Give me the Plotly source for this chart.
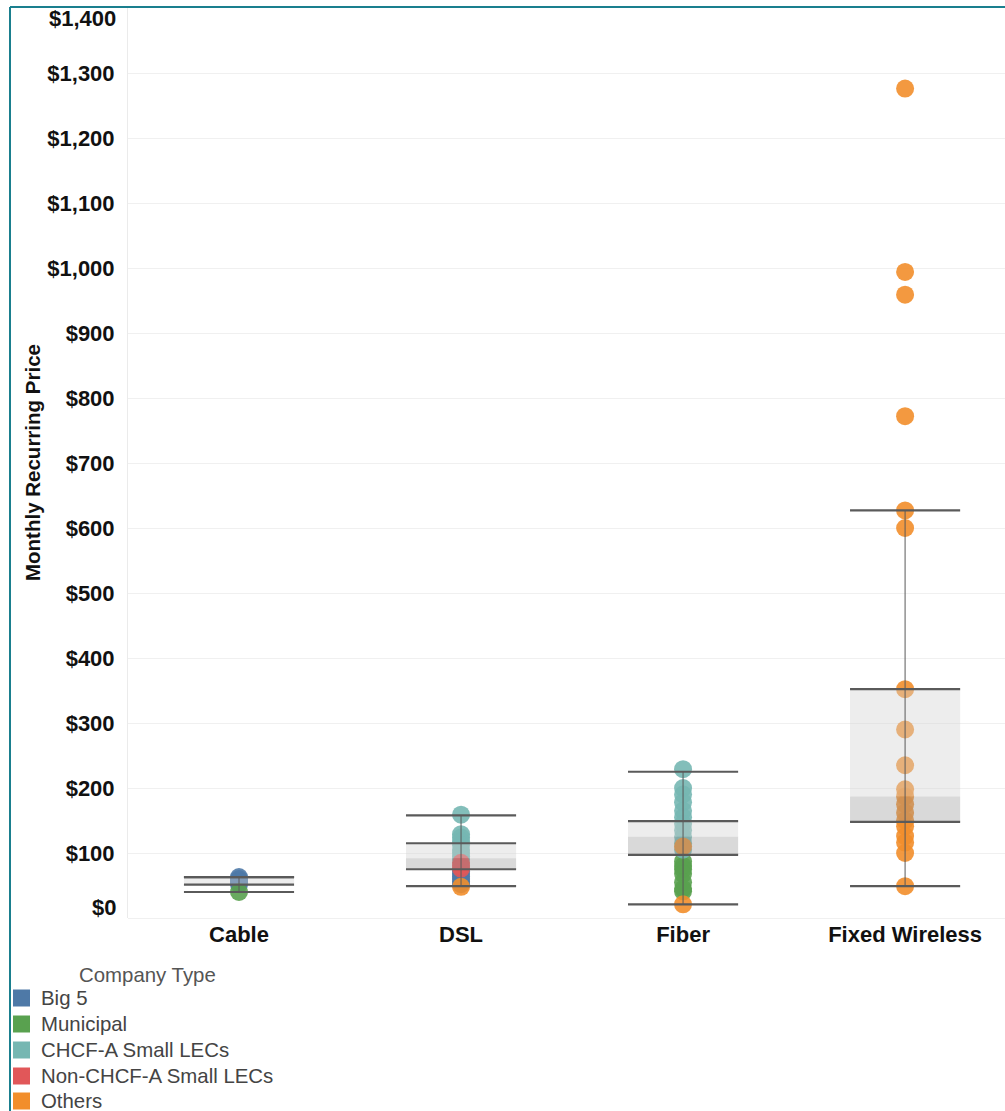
import plotly.graph_objects as go

# ---- data -------------------------------------------------------------
CATEGORIES = ["Cable", "DSL", "Fiber", "Fixed Wireless"]
COMPANY_TYPES = ["Big 5", "Municipal", "CHCF-A Small LECs", "Non-CHCF-A Small LECs", "Others"]
COLORS = ["#4E79A7", "#59A14F", "#76B7B2", "#E15759", "#F28E2B"]

# monthly recurring prices ($) by technology and company type
cable_big5 = [63, 60, 57, 55, 52]
cable_municipal = [40]

dsl_big5 = [72, 68, 64, 60, 56, 52]
dsl_chcf = [159, 129, 124, 118, 112, 105, 100, 95, 90]
dsl_non_chcf = [85, 80, 76]
dsl_others = [48]

fiber_municipal = [87, 80, 75, 68, 55, 45, 41]
fiber_chcf = [229, 200, 190, 178, 165, 155, 145, 135, 125, 115, 105]
fiber_others = [110, 21]

fixed_wireless_others = [1276, 994, 959, 772, 627, 600, 352, 290, 235, 198,
                         187, 175, 162, 150, 141, 126, 116, 100, 49]

# box-plot statistics per technology
whisker_low = [40, 49, 21, 49]
q1 = [51.5, 75, 97, 148]
median = [52, 92, 125, 187]
q3 = [63, 115, 149, 352]
whisker_high = [63, 158, 225, 627]

Y_TICKS = [100, 200, 300, 400, 500, 600, 700, 800, 900, 1000, 1100, 1200, 1300]

# ---- assemble series (category index, prices) per company type --------
series = {
    "Big 5": [(0, cable_big5), (1, dsl_big5)],
    "Municipal": [(0, cable_municipal), (2, fiber_municipal)],
    "CHCF-A Small LECs": [(1, dsl_chcf), (2, fiber_chcf)],
    "Non-CHCF-A Small LECs": [(1, dsl_non_chcf)],
    "Others": [(1, dsl_others), (2, fiber_others), (3, fixed_wireless_others)],
}

FONT = "Liberation Sans, Arial, sans-serif"
W, H = 1005, 1111
PLOT_L, PLOT_R, PLOT_T, PLOT_B = 128, 1005, 8, 918


def px_x(px):
    return (px - PLOT_L) / (PLOT_R - PLOT_L)


def px_y(py):
    return (PLOT_B - py) / (PLOT_B - PLOT_T)


fig = go.Figure()

for name, color in zip(COMPANY_TYPES, COLORS):
    xs, ys = [], []
    for idx, vals in series[name]:
        xs += [idx] * len(vals)
        ys += vals
    fig.add_trace(go.Scatter(
        x=xs, y=ys, mode="markers", name=name, showlegend=False,
        marker=dict(size=18, color=color, opacity=0.9, line=dict(width=0)),
        hovertemplate="%{y:$,.0f}<extra>" + name + "</extra>",
    ))

# ---- Tableau-style boxes: two-tone fill, full-width edge lines ---------
shapes = []
HALF = 0.248
LINE_C = "#5a5a5a"
for i in range(len(CATEGORIES)):
    shapes.append(dict(type="rect", xref="x", yref="y", layer="above",
                       x0=i - HALF, x1=i + HALF, y0=median[i], y1=q3[i],
                       fillcolor="rgba(210,210,210,0.40)", line=dict(width=0)))
    shapes.append(dict(type="rect", xref="x", yref="y", layer="above",
                       x0=i - HALF, x1=i + HALF, y0=q1[i], y1=median[i],
                       fillcolor="rgba(150,150,150,0.36)", line=dict(width=0)))
    shapes.append(dict(type="line", xref="x", yref="y", layer="above",
                       x0=i, x1=i, y0=whisker_low[i], y1=whisker_high[i],
                       line=dict(color=LINE_C, width=1)))
    for v in (whisker_low[i], q1[i], q3[i], whisker_high[i]):
        shapes.append(dict(type="line", xref="x", yref="y", layer="above",
                           x0=i - HALF, x1=i + HALF, y0=v, y1=v,
                           line=dict(color=LINE_C, width=2.2)))

# ---- outer teal frame ---------------------------------------------------
FRAME = "#1A7F8E"
shapes.append(dict(type="line", xref="paper", yref="paper", layer="above",
                   x0=px_x(10), x1=px_x(10), y0=px_y(7), y1=px_y(H + 5),
                   line=dict(color=FRAME, width=2)))
shapes.append(dict(type="line", xref="paper", yref="paper", layer="above",
                   x0=px_x(10), x1=px_x(W + 5), y0=px_y(7), y1=px_y(7),
                   line=dict(color=FRAME, width=2)))

# ---- legend (company type) ---------------------------------------------
annotations = []
annotations.append(dict(text="Company Type", xref="paper", yref="paper",
                        x=px_x(77), y=px_y(975), xanchor="left", yanchor="middle",
                        showarrow=False, font=dict(family=FONT, size=20.4, color="#555555")))
row_y = [998, 1024, 1050, 1076, 1101]
for name, color, ry in zip(COMPANY_TYPES, COLORS, row_y):
    shapes.append(dict(type="rect", xref="paper", yref="paper", layer="above",
                       x0=px_x(13), x1=px_x(30), y0=px_y(ry + 8.5), y1=px_y(ry - 8.5),
                       fillcolor=color, line=dict(width=0)))
    annotations.append(dict(text=name, xref="paper", yref="paper",
                            x=px_x(39), y=px_y(ry), xanchor="left", yanchor="middle",
                            showarrow=False, font=dict(family=FONT, size=20.4, color="#444444")))

# ---- axis title and the end labels kept inside the plot ---------------
annotations.append(dict(text="<b>Monthly Recurring Price</b>", xref="paper", yref="paper",
                        x=px_x(32), y=0.5, textangle=-90, xanchor="center", yanchor="middle",
                        showarrow=False, font=dict(family=FONT, size=20.5, color="#111111")))
for val, shift in ((0, 11), (1400, -10)):
    annotations.append(dict(text=f"${val:,}", xref="paper", yref="y", x=0, y=val,
                            xanchor="right", yanchor="middle", xshift=-10, yshift=shift,
                            showarrow=False,
                            font=dict(family=FONT, size=22, color="#111111", weight="bold")))

fig.update_layout(
    width=W, height=H,
    margin=dict(l=PLOT_L, r=W - PLOT_R, t=PLOT_T, b=H - PLOT_B),
    paper_bgcolor="white", plot_bgcolor="white",
    font=dict(family=FONT),
    shapes=shapes, annotations=annotations,
    showlegend=False,
    xaxis=dict(
        range=[-0.5, 3.45], tickmode="array", tickvals=list(range(len(CATEGORIES))),
        ticktext=CATEGORIES, showgrid=False, zeroline=False, showline=False,
        tickfont=dict(family=FONT, size=22, color="#111111", weight="bold"),
        ticklabelstandoff=1,
    ),
    yaxis=dict(
        range=[0, 1400], tickmode="array", tickvals=Y_TICKS,
        ticktext=[f"${v:,}" for v in Y_TICKS],
        showgrid=True, gridcolor="#F0F0F0", gridwidth=1,
        zeroline=True, zerolinecolor="#F0F0F0", zerolinewidth=1,
        showline=True, linecolor="#EBEBEB", linewidth=1,
        tickfont=dict(family=FONT, size=22, color="#111111", weight="bold"),
        ticklabelstandoff=8,
    ),
)

fig.write_html("out.html")
